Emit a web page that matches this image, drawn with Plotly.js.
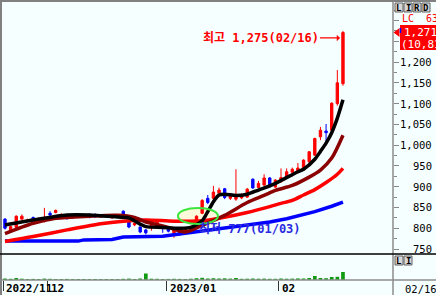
<!DOCTYPE html>
<html><head><meta charset="utf-8">
<script src="https://cdn.plot.ly/plotly-3.0.1.min.js"></script>
<style>html,body{margin:0;padding:0;background:#f5ffff;overflow:hidden}#c{width:436px;height:295px}</style>
</head><body><div id="c"></div>
<script>
// trading days shown (2022-11-21 .. 2023-02-16)
const days = ['11/21','11/22','11/23','11/24','11/25','11/28','11/29','11/30',
 '12/01','12/02','12/05','12/06','12/07','12/08','12/09','12/12','12/13','12/14','12/15','12/16','12/19','12/20','12/21','12/22','12/23','12/26','12/27','12/28','12/29',
 '01/02','01/03','01/04','01/05','01/06','01/09','01/10','01/11','01/12','01/13','01/16','01/17','01/18','01/19','01/20','01/25','01/26','01/27','01/30','01/31',
 '02/01','02/02','02/03','02/06','02/07','02/08','02/09','02/10','02/13','02/14','02/15','02/16'];
const openP  = [822,795,802,822,817,826,819,816,836,838,829,832,825,828,831,832,830,827,829,825,831,841,815,808,803,796,803,804,804,800,788,785,792,796,813,836,872,872,884,895,872,870,873,875,918,898,904,921,899,912,923,935,937,940,960,976,1020,1034,1036,1100,1148];
const highP  = [824,806,831,833,823,828,826,849,841,845,836,834,831,834,833,836,836,832,833,833,834,843,818,814,805,798,814,822,806,803,801,797,800,806,831,870,880,902,898,897,882,942,884,897,920,914,930,923,918,944,944,946,957,966,986,1018,1044,1051,1103,1181,1275];
const lowP   = [797,792,800,820,815,817,817,814,827,836,827,821,823,826,826,824,825,825,826,823,827,830,800,805,788,785,794,802,789,790,777,782,789,793,810,834,858,868,876,870,868,866,870,873,895,896,902,898,897,910,921,925,932,938,957,974,1012,1008,1030,1095,1143];
const closeP = [800,804,829,829,820,819,823,825,832,843,833,823,829,832,828,826,828,830,831,831,829,832,803,812,791,789,812,820,801,793,799,795,797,802,829,867,862,887,892,874,878,880,880,894,897,908,921,900,916,922,936,942,945,964,984,1016,1036,1030,1101,1150,1271];
const volume = [1.5,1.2,2.0,1.3,1.0,1.1,1.0,1.4,1.2,1.0,1.0,1.1,0.9,1.0,1.0,0.9,1.0,0.9,1.0,0.9,0.9,1.2,1.4,1.0,1.5,6.5,1.3,1.2,1.0,1.1,1.2,1.1,1.0,1.3,1.8,2.2,1.5,1.8,1.5,1.7,1.4,2.0,1.2,1.3,1.5,1.3,1.4,1.2,1.2,1.5,1.3,1.4,1.6,1.5,2.0,4.0,2.0,1.8,3.0,3.2,8.0];

// moving averages (index of trading day, value)
const maShortIdx = [0,5,11,15,20,22,24,25,28,31,33,35,36,37,38,39,41,43,45,47,49,52,53,55,56,57,58,59,60];
const maShortVal = [808,820,832,832,827,825,810,804,802,800,802,818,840,864,880,882,879,882,892,902,915,936,942,966,985,1005,1030,1065,1109];
const maMidIdx = [0,5,9,15,20,23,25,26,29,32,35,39,43,46,48,51,54,56,58,60];
const maMidVal = [787,812,824,829,831,826,815,812,802,791,807,831,862,879,891,903,923,940,969,1024];
const maLongIdx = [0,5,11,17,21,25,30,35,38,43,47,49,51,53,55,57,59,60];
const maLongVal = [768,780,796,811,817,820,817,818,824,838,852,860,867,880,893,910,930,944];
const ma120Idx = [0,13,14,19,20,21,28,32,37,43,47,50,52,55,58,60];
const ma120Val = [769,769,772,773,776,779,781,788,797,808,815,823,829,840,853,863];

const priceTicks = [750,800,850,900,950,1000,1050,1100,1150,1200,1250,1300];
const priceLabels = ['750','800','850','900','950','1,000','1,050','1,100','1,150','1,200'];
const dateTickIdx = [-0.35, 7.6, 28.7, 48.6];
const dateTickText = ['2022/11','12','2023/01','02'];
const lastDateText = '02/16';
const highText = '최고 1,275(02/16)';
const lowText = '최저 777(01/03)';
const lastPriceText = '1,271';
const lastChangeText = '(10,81%)';
const lcText = 'LC  63';

const idx = days.map((d, i) => i);
const PX = px => (px - 2) / 391;
const PY = py => (280 - py) / 279;
const MONO = 'DejaVu Sans Mono, Noto Sans CJK KR, monospace';

const hiIdx = highP.indexOf(Math.max(...highP));
const loIdx = lowP.indexOf(Math.min(...lowP));

const traces = [
  {type:'candlestick', x: idx, open: openP, high: highP, low: lowP, close: closeP,
   increasing:{line:{color:'#ff0000', width:1}, fillcolor:'#ff0000'},
   decreasing:{line:{color:'#0000ff', width:1}, fillcolor:'#0000ff'},
   whiskerwidth:0, xaxis:'x', yaxis:'y', hoverinfo:'skip'},
  {type:'scatter', mode:'lines', x: ma120Idx, y: ma120Val, line:{color:'#0000ff', width:3.5}, yaxis:'y'},
  {type:'scatter', mode:'lines', x: maLongIdx, y: maLongVal, line:{color:'#ff0000', width:3.5, shape:'spline', smoothing:0.8}, yaxis:'y'},
  {type:'scatter', mode:'lines', x: maMidIdx, y: maMidVal, line:{color:'#8b0000', width:3.5, shape:'spline', smoothing:0.8}, yaxis:'y'},
  {type:'scatter', mode:'lines', x: maShortIdx, y: maShortVal, line:{color:'#000000', width:3.5, shape:'spline', smoothing:0.7}, yaxis:'y'},
  {type:'bar', x: idx, y: volume, marker:{color:'#109a10'}, yaxis:'y2'}
];

const shapes = [
  {type:'circle', xref:'x', yref:'y', x0:30.7, x1:37.8, y0:810, y1:849, fillcolor:'rgba(255,248,215,0.9)', line:{width:0}, layer:'below'},
  {type:'circle', xref:'x', yref:'y', x0:30.7, x1:37.8, y0:810, y1:849, fillcolor:'rgba(0,0,0,0)', line:{color:'#3ce63c', width:2}, layer:'above'},
  {type:'line', xref:'paper', yref:'paper', x0:PX(393), x1:PX(393), y0:PY(296), y1:PY(0), line:{color:'#8c8c8c', width:1.5}},
  {type:'line', xref:'paper', yref:'paper', x0:PX(0), x1:PX(437), y0:PY(1), y1:PY(1), line:{color:'#808080', width:2}},
  {type:'line', xref:'paper', yref:'paper', x0:PX(1), x1:PX(1), y0:PY(0), y1:PY(296), line:{color:'#808080', width:2}},
  {type:'line', xref:'paper', yref:'paper', x0:PX(0), x1:PX(437), y0:PY(254), y1:PY(254), line:{color:'#000000', width:1.5}},
  {type:'line', xref:'paper', yref:'paper', x0:PX(0), x1:PX(437), y0:PY(280), y1:PY(280), line:{color:'#8c8c8c', width:1.5}},
  {type:'rect', xref:'paper', yref:'paper', x0:PX(400), x1:PX(440), y0:PY(50), y1:PY(25), fillcolor:'#ff0000', line:{width:0}},
  {type:'path', xref:'paper', yref:'paper', path:`M ${PX(393.5)} ${PY(32.5)} L ${PX(399.5)} ${PY(28)} L ${PX(399.5)} ${PY(37)} Z`, fillcolor:'#ff0000', line:{width:0}},
  {type:'line', xref:'paper', yref:'paper', x0:PX(400.5), x1:PX(400.5), y0:PY(28), y1:PY(33), line:{color:'#0000ff', width:1.5}}
];
['L','I','R','D'].forEach((t, k) => {
  shapes.push({type:'rect', xref:'paper', yref:'paper', x0:PX(395 + k*9), x1:PX(403 + k*9), y0:PY(12), y1:PY(3), fillcolor:'#d8d8d8', line:{color:'#606060', width:1}});
});
['L','I'].forEach((t, k) => {
  shapes.push({type:'rect', xref:'paper', yref:'paper', x0:PX(395 + k*9), x1:PX(403 + k*9), y0:PY(265), y1:PY(256), fillcolor:'#d8d8d8', line:{color:'#606060', width:1}});
});

const annotations = [];
priceLabels.forEach((t, k) => {
  annotations.push({xref:'paper', yref:'y', x:PX(434), y:priceTicks[k], text:t, showarrow:false, xanchor:'right', yanchor:'middle',
    font:{family:MONO, size:10.5, color:'#000'}});
});
dateTickText.forEach((t, k) => {
  annotations.push({xref:'x', yref:'paper', x:dateTickIdx[k], y:PY(288), text:'<b>'+t+'</b>', showarrow:false, xanchor:'left', yanchor:'middle', xshift:1,
    font:{family:MONO, size:11, color:'#000'}});
});
annotations.push({xref:'paper', yref:'paper', x:PX(403), y:PY(288.5), text:lastDateText, showarrow:false, xanchor:'left', yanchor:'middle',
  font:{family:MONO, size:10.5, color:'#000'}});
annotations.push({xref:'x', yref:'y', x:hiIdx, y:highP[hiIdx], xshift:-3, yshift:-7, ax:-20, ay:0, text:'<b>'+highText+'</b>',
  showarrow:true, arrowhead:1, arrowsize:0.9, arrowwidth:1.2, arrowcolor:'#ff0000', xanchor:'right', yanchor:'middle', borderpad:0,
  font:{family:MONO, size:12, color:'#ff0000'}});
annotations.push({xref:'x', yref:'y', x:loIdx, y:lowP[loIdx], xshift:23, yshift:9, text:'<b>'+lowText+'</b>', showarrow:false,
  xanchor:'left', yanchor:'middle', font:{family:MONO, size:12, color:'#2a2ae0'}});
annotations.push({xref:'paper', yref:'paper', x:PX(400), y:PY(18.5), text:lcText, showarrow:false, xanchor:'left', yanchor:'middle',
  font:{family:MONO, size:10, color:'#ff0000'}});
annotations.push({xref:'paper', yref:'paper', x:PX(402), y:PY(32.5), text:lastPriceText, showarrow:false, xanchor:'left', yanchor:'middle',
  font:{family:MONO, size:11, color:'#ffffff'}});
annotations.push({xref:'paper', yref:'paper', x:PX(399), y:PY(44), text:lastChangeText, showarrow:false, xanchor:'left', yanchor:'middle',
  font:{family:MONO, size:11, color:'#ffffff'}});
['L','I','R','D'].forEach((t, k) => {
  annotations.push({xref:'paper', yref:'paper', x:PX(399 + k*9), y:PY(7.5), text:'<b>'+t+'</b>', showarrow:false, xanchor:'center', yanchor:'middle',
    font:{family:MONO, size:9, color:'#000'}});
});
['L','I'].forEach((t, k) => {
  annotations.push({xref:'paper', yref:'paper', x:PX(399 + k*9), y:PY(260.5), text:'<b>'+t+'</b>', showarrow:false, xanchor:'center', yanchor:'middle',
    font:{family:MONO, size:9, color:'#000'}});
});

const layout = {
  width:436, height:295, autosize:false,
  margin:{l:2, r:43, t:1, b:15, pad:0},
  paper_bgcolor:'#f5ffff', plot_bgcolor:'#f5ffff',
  showlegend:false, hovermode:false, boxgap:0.4, bargap:0.35,
  xaxis:{range:[-0.53, 68.88], showgrid:false, zeroline:false, showline:false, rangeslider:{visible:false},
    tickmode:'array', tickvals:dateTickIdx, ticks:'outside', ticklen:10, tickcolor:'#333', tickwidth:1, showticklabels:false, anchor:'y2', fixedrange:true},
  yaxis:{domain:[PY(254), 1], range:[738, 1347], side:'right', showgrid:false, zeroline:false, showline:false,
    tickmode:'array', tickvals:priceTicks, ticks:'outside', ticklen:5, tickcolor:'#888', tickwidth:1, showticklabels:false,
    minor:{tickmode:'linear', tick0:725, dtick:50, ticks:'outside', ticklen:3, tickcolor:'#888', showgrid:false}, fixedrange:true},
  yaxis2:{domain:[0, PY(254)], range:[0, 26], visible:false, fixedrange:true},
  shapes:shapes, annotations:annotations
};
Plotly.newPlot('c', traces, layout, {staticPlot:true, displayModeBar:false});
</script></body></html>
